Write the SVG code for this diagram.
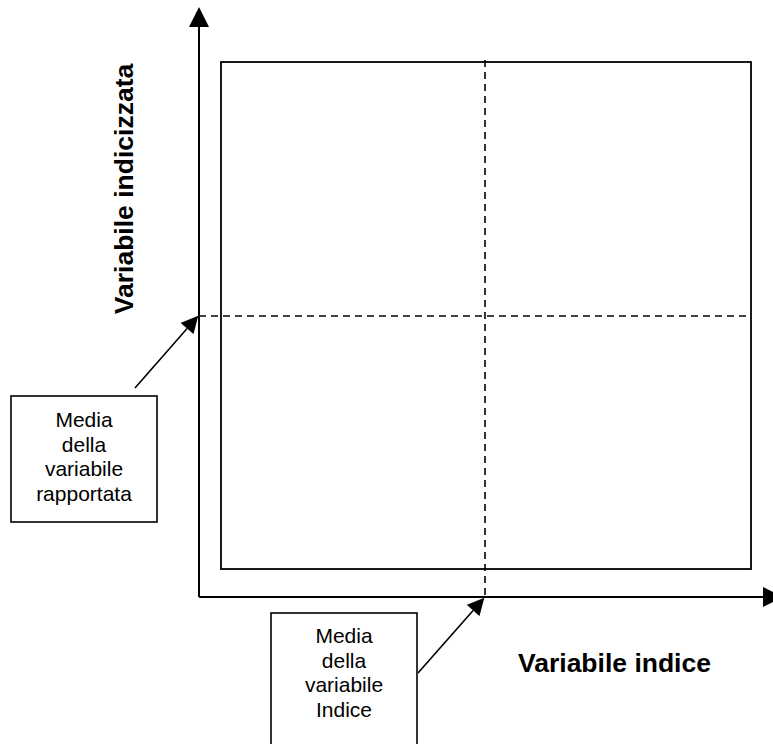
<svg xmlns="http://www.w3.org/2000/svg" width="773" height="744" viewBox="0 0 773 744">
  <style>
    .axis { stroke: #000; stroke-width: 2; fill: none; }
    .frame { stroke: #000; stroke-width: 1.8; fill: none; }
    .mean { stroke: #000; stroke-width: 1.6; fill: none; stroke-dasharray: 7 5; }
    .leader { stroke: #000; stroke-width: 1.6; fill: none; }
    .box { stroke: #000; stroke-width: 1.6; fill: #fff; }
    .note { font-family: "Liberation Sans", Arial, sans-serif; font-size: 21px; text-anchor: middle; fill: #000; }
    .title { font-family: "Liberation Sans", Arial, sans-serif; font-size: 26.5px; font-weight: bold; fill: #000; }
  </style>
  <defs>
    <marker id="axisHead" viewBox="0 0 20 20" refX="0" refY="10" markerWidth="20" markerHeight="21" markerUnits="userSpaceOnUse" orient="auto">
      <path d="M0,0 L20,10 L0,20 Z" fill="#000"/>
    </marker>
    <marker id="leaderHead" viewBox="0 0 20 20" refX="0" refY="10" markerWidth="18" markerHeight="17" markerUnits="userSpaceOnUse" orient="auto">
      <path d="M0,0 L20,10 L0,20 Z" fill="#000"/>
    </marker>
  </defs>

  <rect width="773" height="744" fill="#fff"/>

  <!-- quadrant frame -->
  <g id="frame">
    <rect class="frame" x="221" y="62" width="530" height="507"/>
  </g>

  <g id="connectors">
    <!-- axes -->
    <line class="axis" x1="199" y1="597" x2="199" y2="27" marker-end="url(#axisHead)"/>
    <line class="axis" x1="199" y1="597" x2="763" y2="597" marker-end="url(#axisHead)"/>
    <!-- mean lines -->
    <line class="mean" x1="485" y1="60" x2="485" y2="597"/>
    <line class="mean" x1="199" y1="316" x2="751" y2="316"/>
    <!-- pointers from the boxes to the means -->
    <line class="leader" x1="135" y1="388" x2="187.1" y2="328.5" marker-end="url(#leaderHead)"/>
    <line class="leader" x1="418" y1="673" x2="473.1" y2="610.5" marker-end="url(#leaderHead)"/>
  </g>

  <g id="label-y">
    <text class="title" transform="translate(133,189) rotate(-90)" text-anchor="middle">Variabile indicizzata</text>
  </g>

  <g id="label-x">
    <text class="title" x="518" y="672">Variabile indice</text>
  </g>

  <g id="mean-y">
    <rect class="box" x="11" y="396" width="146" height="126"/>
    <text class="note" x="84" y="427">Media</text>
    <text class="note" x="84" y="451.5">della</text>
    <text class="note" x="84" y="476">variabile</text>
    <text class="note" x="84" y="500.5">rapportata</text>
  </g>

  <g id="mean-x">
    <rect class="box" x="271" y="613" width="146" height="140"/>
    <text class="note" x="344" y="643">Media</text>
    <text class="note" x="344" y="667.5">della</text>
    <text class="note" x="344" y="692">variabile</text>
    <text class="note" x="344" y="716.5">Indice</text>
  </g>
</svg>
